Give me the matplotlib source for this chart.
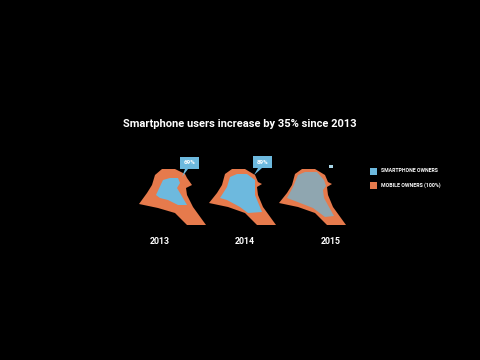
import matplotlib.pyplot as plt
from matplotlib.patches import Polygon, Rectangle

plt.rcParams['font.family'] = ['Roboto', 'DejaVu Sans']

years = ['2013', '2014', '2015']
year_x = [160, 245, 331]
callout_labels = ['69%', '89%']

# outlines, in image pixels
outer_2013 = [(139, 204), (147, 193), (152, 185), (155, 175), (162, 169), (175, 169), (185, 174), (187, 178),
              (192, 185), (186, 188), (187, 195), (193, 207), (206, 225), (187, 225), (175, 213), (158, 208)]
inner_2013 = [(156, 195), (163, 180), (170, 178), (178, 178), (180, 183), (177, 188), (180, 193), (187, 205),
              (178, 205), (168, 200), (160, 198)]
outer_2014 = [(209, 203), (217, 193), (222, 185), (225, 174), (232, 169), (245, 169), (255, 175), (258, 182),
              (262, 184), (257, 187), (258, 195), (263, 207), (276, 225), (257, 225), (245, 213), (228, 207)]
inner_2014 = [(220, 198), (227, 187), (230, 177), (237, 174), (247, 174), (255, 180), (255, 188), (255, 195),
              (262, 212), (248, 213), (240, 207), (227, 200)]
outer_2015 = [(279, 203), (287, 193), (292, 185), (295, 174), (302, 169), (315, 169), (325, 175), (328, 182),
              (332, 184), (327, 187), (328, 195), (333, 207), (346, 225), (327, 225), (315, 213), (298, 207)]
inner_2015 = [(287, 198), (293, 187), (298, 175), (305, 172), (317, 172), (324, 180), (326, 186), (323, 190),
              (324, 198), (334, 216), (325, 217), (313, 208), (295, 201)]

orange = '#E67A4C'
blue = '#6DB9DE'
grey = '#8FA6B0'

fig = plt.figure(figsize=(4.8, 3.6), dpi=100, facecolor='black')
ax = fig.add_axes([0, 0, 1, 1])
ax.set_xlim(0, 480)
ax.set_ylim(360, 0)
ax.axis('off')

for outer, inner, col in zip([outer_2013, outer_2014, outer_2015],
                             [inner_2013, inner_2014, inner_2015],
                             [blue, blue, grey]):
    ax.add_patch(Polygon(outer, closed=True, fc=orange, ec='none'))
    ax.add_patch(Polygon(inner, closed=True, fc=col, ec='none'))

# callouts
ax.add_patch(Rectangle((180, 157), 19, 12, fc=blue, ec='none'))
ax.add_patch(Polygon([(185, 169), (188, 169), (182, 177)], closed=True, fc=blue, ec='none'))
ax.text(189.5, 163, callout_labels[0], color='white', fontsize=4.5, fontweight='bold', ha='center', va='center')
ax.add_patch(Rectangle((253, 156), 19, 12, fc=blue, ec='none'))
ax.add_patch(Polygon([(258, 168), (262, 168), (254, 175)], closed=True, fc=blue, ec='none'))
ax.text(262.5, 162, callout_labels[1], color='white', fontsize=4.5, fontweight='bold', ha='center', va='center')
ax.add_patch(Rectangle((329, 165), 3.5, 2.5, fc='#A9D6E8', ec='none'))

ax.text(240, 124.3, 'Smartphone users increase by 35% since 2013', color='white', fontsize=8.05,
        fontweight='bold', ha='center', va='center')

for x, year in zip(year_x, years):
    ax.text(x, 241, year, color='white', fontsize=6.3, fontweight='bold', ha='center', va='center')

# legend
ax.add_patch(Rectangle((370, 167.5), 7, 7, fc=blue, ec='none'))
ax.add_patch(Rectangle((370, 182), 7, 7, fc=orange, ec='none'))
ax.text(381, 170.5, 'SMARTPHONE OWNERS', color='white', fontsize=3.7, fontweight='bold', va='center')
ax.text(381, 185.3, 'MOBILE OWNERS (100%)', color='white', fontsize=3.8, fontweight='bold', va='center')

fig.savefig('out.png', dpi=100, facecolor='black')
